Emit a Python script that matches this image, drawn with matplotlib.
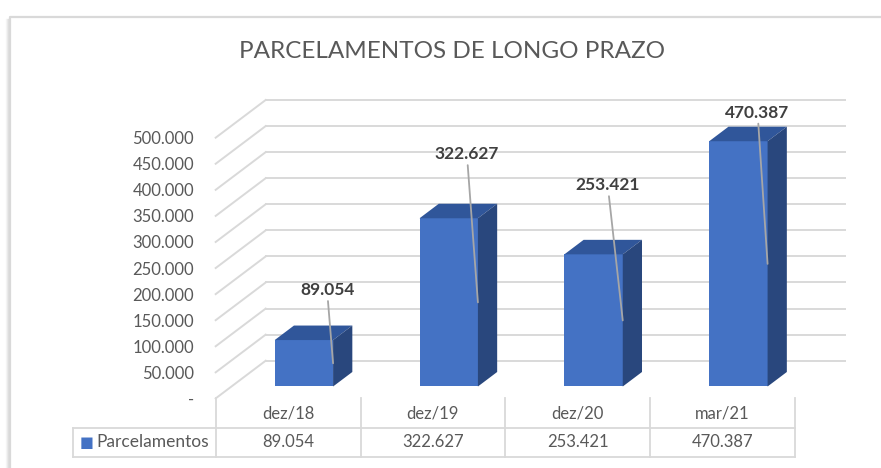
import matplotlib
matplotlib.use("Agg")
import matplotlib.pyplot as plt
from matplotlib.patches import Polygon
from matplotlib import transforms
from matplotlib.lines import Line2D

# data
categories = ['dez/18', 'dez/19', 'dez/20', 'mar/21']
parcelamentos = [89054, 322627, 253421, 470387]
series_name = 'Parcelamentos'
title = 'PARCELAMENTOS DE LONGO PRAZO'
y_ticks = list(range(0, 500001, 50000))

# styling
FONT = 'Lato'
TEXT_GREY = '#595959'
GRID_GREY = '#D9D9D9'
FRONT = '#4472C4'
TOP = '#30569A'
SIDE = '#29477D'

# fake 3d depth (in data units: x categories, y values)
DX = 0.3453
DY = 72300
BAR_FRONT = 0.316     # depth fraction where bar front sits
BAR_DEPTH = 0.385     # bar depth as fraction of the wall depth
BAR_W = 0.403
# hand-placed label offsets (pixels) from leader anchor, like the excel chart
label_offsets = [(-6, 73), (-11, 148), (-15, 135), (-10, 151)]


def fmt(v):
    if v == 0:
        return '-'
    return '{:,}'.format(v).replace(',', '.')


def shifted(dx=0, dy=0):
    return transforms.offset_copy(ax.transData, fig=fig, x=dx, y=dy, units='dots')


fig = plt.figure(figsize=(8.81, 4.68), dpi=100)
ax = fig.add_axes([0.2448, 0.1487, 0.6576, 0.5571])
ax.set_xlim(-0.5, 3.5)
ax.set_ylim(0, 500000)
for s in ax.spines.values():
    s.set_visible(False)
ax.set_xticks([])
ax.set_yticks(y_ticks)
ax.set_yticklabels([fmt(v) for v in y_ticks], fontfamily=FONT, fontsize=12, color=TEXT_GREY)
ax.tick_params(axis='y', length=0, pad=15.5)
ax.patch.set_visible(False)

# back wall grid + left side diagonals
for v in y_ticks:
    ax.plot([-0.5 + DX, 3.5 + DX], [v + DY, v + DY], color=GRID_GREY, lw=1.4, clip_on=False, zorder=1)
    ax.plot([-0.5, -0.5 + DX], [v, v + DY], color=GRID_GREY, lw=1.4, clip_on=False, zorder=1)

# bars: front face with ax.bar, top and side faces as polygons
xf = [i + BAR_FRONT * DX for i in range(len(categories))]
y0 = BAR_FRONT * DY
bdx = BAR_DEPTH * DX
bdy = BAR_DEPTH * DY
ax.bar(xf, parcelamentos, bottom=y0, width=BAR_W, color=FRONT, zorder=3, clip_on=False)
for xi, v in zip(xf, parcelamentos):
    l, r, t = xi - BAR_W / 2, xi + BAR_W / 2, y0 + v
    ax.add_patch(Polygon([(l, t), (r, t), (r + bdx, t + bdy), (l + bdx, t + bdy)],
                         closed=True, facecolor=TOP, edgecolor='none', zorder=3, clip_on=False))
    ax.add_patch(Polygon([(r, y0), (r, t), (r + bdx, t + bdy), (r + bdx, y0 + bdy)],
                         closed=True, facecolor=SIDE, edgecolor='none', zorder=3, clip_on=False))

# data labels with leader lines
for xi, v, off in zip(xf, parcelamentos, label_offsets):
    ax.annotate(fmt(v), xy=(xi + BAR_W / 2, y0 + v / 2), xytext=off, textcoords='offset pixels',
                ha='center', va='center', fontfamily=FONT, fontsize=12.5, fontweight='bold',
                color='#404040', annotation_clip=False, zorder=5,
                arrowprops=dict(arrowstyle='-', color='#A6A6A6', lw=1.3, shrinkA=0, shrinkB=0))

# data table under the chart (row heights in pixels)
ROW_H = 29.5
tbl_left = -1.487
edges = [i - 0.5 for i in range(len(categories) + 1)]
row1 = shifted(dy=-ROW_H)
row2 = shifted(dy=-2 * ROW_H)
per_px = 500000 / 260.7
for e in edges:
    ax.plot([e, e], [0, -ROW_H * per_px], color=GRID_GREY, lw=1.3, clip_on=False, zorder=1)
for e in edges + [tbl_left]:
    ax.plot([e, e], [0, -ROW_H * per_px], transform=row1, color=GRID_GREY, lw=1.3, clip_on=False, zorder=1)
ax.plot([tbl_left, 3.5], [0, 0], transform=row1, color=GRID_GREY, lw=1.3, clip_on=False)
ax.plot([tbl_left, 3.5], [0, 0], transform=row2, color=GRID_GREY, lw=1.3, clip_on=False)

for i, (c, v) in enumerate(zip(categories, parcelamentos)):
    ax.text(i, 0, c, transform=shifted(dy=-15), ha='center', va='center', fontfamily=FONT,
            fontsize=12, color=TEXT_GREY, clip_on=False)
    ax.text(i, 0, fmt(v), transform=shifted(dy=-44), ha='center', va='center', fontfamily=FONT,
            fontsize=12, color=TEXT_GREY, clip_on=False)
# legend key in the table
ax.text(tbl_left, 0, '\u25A0', transform=shifted(dx=13.5, dy=-44),
        ha='center', va='center', fontsize=10.5, color=FRONT, clip_on=False)
ax.text(tbl_left, 0, series_name, transform=shifted(dx=23.5, dy=-44),
        ha='left', va='center', fontfamily=FONT, fontsize=12.5, color=TEXT_GREY, clip_on=False)

# title
fig.text(0.513, 0.889, title, ha='center', va='center', fontfamily=FONT, fontsize=17.5, color=TEXT_GREY)

# chart area border with a soft shadow on the left
for i, a in enumerate([0.03, 0.06, 0.09, 0.13]):
    fig.add_artist(Line2D([(6 + i) / 881, (6 + i) / 881], [0, (468 - 19) / 468], color='black', alpha=a, lw=1))
fig.add_artist(Line2D([10 / 881, 10 / 881, 1], [0, (468 - 16.5) / 468, (468 - 16.5) / 468],
                      color=GRID_GREY, lw=1.6))

fig.savefig('out.png', dpi=100)
